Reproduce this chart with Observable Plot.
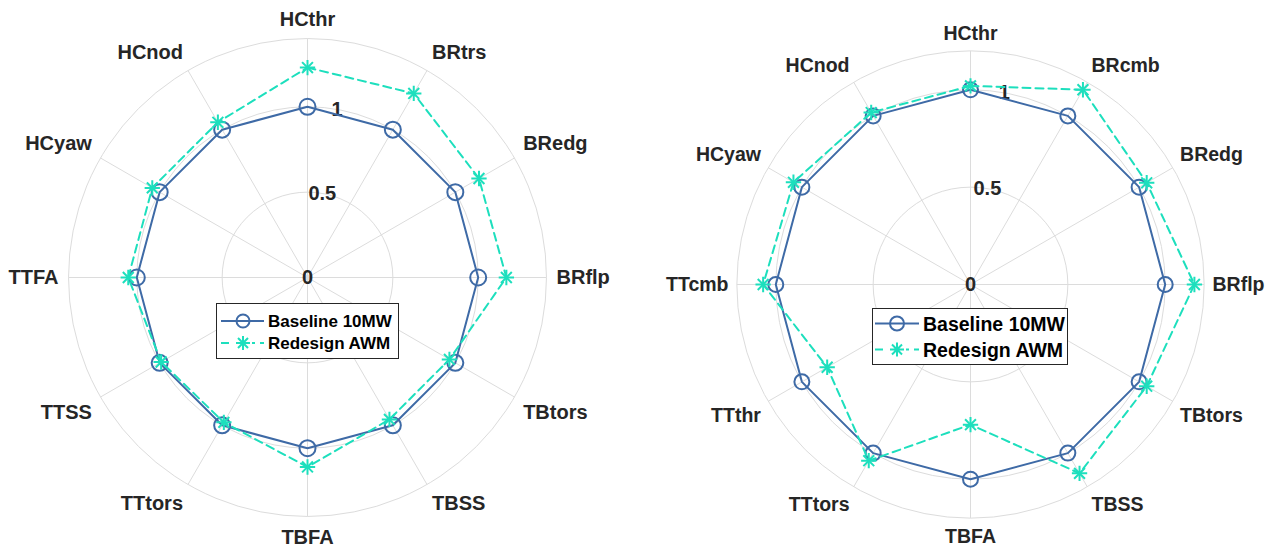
<!DOCTYPE html>
<html><head><meta charset="utf-8">
<script src="https://cdn.jsdelivr.net/npm/d3@7"></script>
<script src="https://cdn.jsdelivr.net/npm/@observablehq/plot@0.6"></script>
<style>
body{margin:0;background:#fff;font-family:"Liberation Sans",Arial,Helvetica,sans-serif;}
#wrap{position:relative;width:1271px;height:547px;overflow:hidden;background:#fff;}
.panel{position:absolute;top:0;}
.legend{position:absolute;background:#fff;border:1px solid #262626;box-sizing:border-box;}
</style></head><body><div id="wrap"></div>
<script>
// ---- data ----
const seriesNames = ["Baseline 10MW", "Redesign AWM"];

const leftAxes = ["HCthr","BRtrs","BRedg","BRflp","TBtors","TBSS","TBFA","TTtors","TTSS","TTFA","HCyaw","HCnod"];
const leftBaseline = [1,1,1,1,1,1,1,1,1,1,1,1];
const leftRedesign = [1.23,1.245,1.16,1.165,0.96,0.96,1.11,0.98,0.99,1.05,1.05,1.05];
const leftTicks = [0, 0.5, 1];
const leftRmax = 1.4;

const rightAxes = ["HCthr","BRcmb","BRedg","BRflp","TBtors","TBSS","TBFA","TTtors","TTthr","TTcmb","HCyaw","HCnod"];
const rightBaseline = [1,1,1,1,1,1,1,1,1,1,1,1];
const rightRedesign = [1.02,1.155,1.045,1.15,1.045,1.12,0.72,1.045,0.85,1.065,1.05,1.02];
const rightTicks = [0, 0.5, 1];
const rightRmax = 1.2;

// ---- style ----
const BLUE = "#3e6aa6";
const TEAL = "#1ddfbd";
const GRID = "#dcdcdc";
const TXT = "#262626";
const FONT = "'Liberation Sans', Arial, Helvetica, sans-serif";

function radar({axes, base, red, ticks, rmax, W, H, cx, cy, k, rL, fs, tfs, circR}) {
  const n = axes.length;
  const ang = i => i * 2 * Math.PI / n;
  const X = (i, r) => r * Math.sin(ang(i));
  const Y = (i, r) => r * Math.cos(ang(i));
  const rows = axes.map((name, i) => ({name, i, base: base[i], red: red[i]}));
  const rings = [...ticks.filter(t => t > 0), rmax];
  const tickAng = 10 * Math.PI / 180;
  const anchorOf = d => { const s = Math.sin(ang(d.i)); return s > 0.1 ? "start" : s < -0.1 ? "end" : "middle"; };
  const lineOf = d => { const c = Math.cos(ang(d.i)); return c > 0.1 ? "bottom" : c < -0.1 ? "top" : "middle"; };
  const groups = d3.groups(rows, d => anchorOf(d) + "|" + lineOf(d));
  const labelMarks = groups.map(([key, g]) => {
    const [ta, la] = key.split("|");
    return Plot.text(g, {
      x: d => X(d.i, rL), y: d => Y(d.i, rL), text: "name",
      textAnchor: ta, lineAnchor: la, dy: la === "bottom" ? -3 : la === "top" ? 3 : 0,
      fontSize: fs, fontWeight: "bold", fill: TXT, fontFamily: FONT
    });
  });
  return Plot.plot({
    width: W, height: H, margin: 0,
    x: {domain: [-cx / k, (W - cx) / k], range: [0, W], axis: null},
    y: {domain: [(cy - H) / k, cy / k], range: [H, 0], axis: null},
    style: {background: "transparent", overflow: "visible", fontFamily: FONT},
    marks: [
      ...rings.map(v => Plot.dot([v], {x: () => 0, y: () => 0, r: v * k, stroke: GRID, strokeWidth: 1, fill: "none"})),
      Plot.link(rows, {x1: () => 0, y1: () => 0, x2: d => X(d.i, rmax), y2: d => Y(d.i, rmax), stroke: GRID, strokeWidth: 1}),
      Plot.text(ticks, {x: t => t * Math.sin(tickAng), y: t => t * Math.cos(tickAng), text: t => String(t),
        textAnchor: "middle", lineAnchor: "middle", fontSize: tfs, fontWeight: "bold", fill: TXT, fontFamily: FONT}),
      ...labelMarks,
      Plot.line(rows, {x: d => X(d.i, d.base), y: d => Y(d.i, d.base), curve: "linear-closed", stroke: BLUE, strokeWidth: 2}),
      Plot.dot(rows, {x: d => X(d.i, d.base), y: d => Y(d.i, d.base), r: circR, stroke: BLUE, strokeWidth: 2, fill: "none"}),
      Plot.line(rows, {x: d => X(d.i, d.red), y: d => Y(d.i, d.red), curve: "linear-closed", stroke: TEAL, strokeWidth: 2, strokeDasharray: "8,5"}),
      Plot.dot(rows, {x: d => X(d.i, d.red), y: d => Y(d.i, d.red), symbol: "plus", r: 5, stroke: TEAL, strokeWidth: 2, fill: "none"}),
      Plot.dot(rows, {x: d => X(d.i, d.red), y: d => Y(d.i, d.red), symbol: "times", r: 5, stroke: TEAL, strokeWidth: 2, fill: "none"})
    ]
  });
}

function legend({left, top, width, height, rowY, lineX, markerX, textX, fs, mr, sr}) {
  const div = document.createElement("div");
  div.className = "legend";
  Object.assign(div.style, {left: left + "px", top: top + "px", width: width + "px", height: height + "px"});
  const ns = "http://www.w3.org/2000/svg";
  const svg = document.createElementNS(ns, "svg");
  svg.setAttribute("width", width - 2); svg.setAttribute("height", height - 2);
  svg.style.position = "absolute"; svg.style.left = "0"; svg.style.top = "0";
  const y1 = rowY[0], y2 = rowY[1];
  const d = Math.round(sr * 0.72);
  svg.innerHTML =
    `<line x1="${lineX[0]}" x2="${lineX[1]}" y1="${y1}" y2="${y1}" stroke="${BLUE}" stroke-width="2"/>` +
    `<circle cx="${markerX}" cy="${y1}" r="${mr}" fill="none" stroke="${BLUE}" stroke-width="2"/>` +
    `<line x1="${lineX[0]}" x2="${lineX[1]}" y1="${y2}" y2="${y2}" stroke="${TEAL}" stroke-width="2" stroke-dasharray="8,5" stroke-dashoffset="0"/>` +
    `<rect x="${markerX - sr - 2}" y="${y2 - sr - 2}" width="${2 * sr + 4}" height="${2 * sr + 4}" fill="#fff"/>` +
    `<path d="M${markerX - sr},${y2}H${markerX + sr}M${markerX},${y2 - sr}V${y2 + sr}M${markerX - d},${y2 - d}L${markerX + d},${y2 + d}M${markerX - d},${y2 + d}L${markerX + d},${y2 - d}" stroke="${TEAL}" stroke-width="2" fill="none"/>` +
    seriesNames.map((s, j) => `<text x="${textX}" y="${rowY[j]}" dy="0.36em" font-size="${fs}" font-weight="bold" fill="#000" font-family="${FONT.replace(/'/g, "")}">${s}</text>`).join("");
  div.appendChild(svg);
  return div;
}

const wrap = document.getElementById("wrap");

const leftPanel = document.createElement("div");
leftPanel.className = "panel"; leftPanel.style.left = "0px";
leftPanel.appendChild(radar({axes: leftAxes, base: leftBaseline, red: leftRedesign, ticks: leftTicks, rmax: leftRmax,
  W: 635, H: 547, cx: 307, cy: 277, k: 170.7, rL: 249 / 170.7, fs: 20, tfs: 20, circR: 8}));
wrap.appendChild(leftPanel);

const rightPanel = document.createElement("div");
rightPanel.className = "panel"; rightPanel.style.left = "635px";
rightPanel.appendChild(radar({axes: rightAxes, base: rightBaseline, red: rightRedesign, ticks: rightTicks, rmax: rightRmax,
  W: 636, H: 547, cx: 335, cy: 284, k: 194.7, rL: 242 / 194.7, fs: 19.5, tfs: 20, circR: 7.5}));
wrap.appendChild(rightPanel);

wrap.appendChild(legend({left: 216, top: 303, width: 183, height: 56, rowY: [17, 39], lineX: [4, 47], markerX: 26, textX: 51, fs: 17, mr: 6.5, sr: 7}));
wrap.appendChild(legend({left: 872, top: 308, width: 196, height: 57, rowY: [14.5, 40.5], lineX: [2, 46], markerX: 24, textX: 50, fs: 19.5, mr: 7, sr: 7}));
</script>
</body></html>
